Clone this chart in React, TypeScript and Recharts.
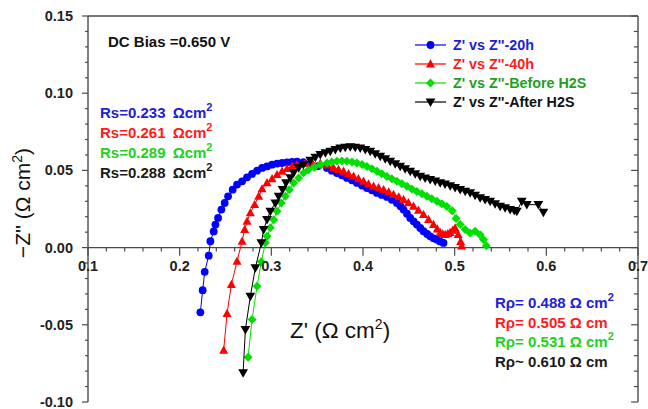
import { ReferenceDot, ReferenceLine, Scatter, ScatterChart, XAxis, YAxis } from "recharts";

// Z' / -Z'' readings, Ω cm²
const z20h: [number, number][] = [
  [0.2226, -0.0419], [0.2251, -0.0276], [0.2273, -0.0157], [0.2317, -0.0052], [0.2335, 0.0041],
  [0.2371, 0.0105], [0.239, 0.0149], [0.2419, 0.0192], [0.2455, 0.0246], [0.2491, 0.0289],
  [0.2528, 0.0332], [0.2578, 0.0375], [0.2626, 0.0408], [0.2681, 0.0429], [0.2735, 0.0455],
  [0.279, 0.0477], [0.2844, 0.0498], [0.2899, 0.0516], [0.2953, 0.0526], [0.3008, 0.0537],
  [0.3062, 0.0544], [0.3117, 0.0548], [0.3171, 0.0552], [0.3226, 0.0555], [0.328, 0.0557],
  [0.3349, 0.0553], [0.3425, 0.0544], [0.3512, 0.0528], [0.3607, 0.0516], [0.366, 0.0498],
  [0.3716, 0.0483], [0.377, 0.0468], [0.3825, 0.0451], [0.388, 0.0436], [0.3934, 0.0419],
  [0.399, 0.0402], [0.4043, 0.0386], [0.4098, 0.0371], [0.4152, 0.0354], [0.4205, 0.0341],
  [0.4261, 0.0328], [0.4315, 0.031], [0.437, 0.0289], [0.441, 0.0268], [0.4442, 0.0246],
  [0.448, 0.022], [0.4515, 0.0192], [0.4552, 0.017], [0.4588, 0.0149], [0.4625, 0.0127],
  [0.466, 0.0106], [0.47, 0.0088], [0.4733, 0.0073], [0.477, 0.006], [0.4806, 0.0052],
  [0.484, 0.004], [0.4878, 0.003],
];

const z40h: [number, number][] = [
  [0.248, -0.0665], [0.2517, -0.0427], [0.2564, -0.0239], [0.2626, -0.0089], [0.2681, 0.0041],
  [0.2709, 0.0117], [0.2735, 0.017], [0.2771, 0.0225], [0.2818, 0.0278], [0.2862, 0.0332],
  [0.2899, 0.038], [0.2953, 0.0419], [0.3008, 0.0445], [0.3062, 0.0472], [0.3117, 0.0494],
  [0.3171, 0.0511], [0.3226, 0.0526], [0.328, 0.0537], [0.3371, 0.0544], [0.3447, 0.0548],
  [0.3534, 0.0546], [0.3607, 0.0535], [0.3679, 0.0516], [0.3733, 0.0505], [0.3788, 0.0494],
  [0.3842, 0.0478], [0.3897, 0.0461], [0.395, 0.0446], [0.4006, 0.0429], [0.406, 0.0412],
  [0.4115, 0.0397], [0.417, 0.0387], [0.4224, 0.0375], [0.428, 0.036], [0.4333, 0.0343],
  [0.439, 0.0328], [0.4442, 0.0311], [0.4495, 0.029], [0.4551, 0.0267], [0.4605, 0.0242],
  [0.466, 0.0214], [0.4715, 0.0182], [0.4769, 0.0149], [0.481, 0.012], [0.4842, 0.0097],
  [0.487, 0.0088], [0.4897, 0.0084], [0.4925, 0.009], [0.4951, 0.0097], [0.498, 0.0112],
  [0.5005, 0.0126], [0.5038, 0.0084], [0.5065, 0.0039], [0.5076, 0.001],
];

const zBefore: [number, number][] = [
  [0.2746, -0.071], [0.279, -0.0466], [0.2844, -0.025], [0.2891, -0.0091], [0.2935, 0.0032],
  [0.2953, 0.0073], [0.2989, 0.0128], [0.3025, 0.0181], [0.3062, 0.0235], [0.3109, 0.0289],
  [0.3153, 0.0332], [0.3196, 0.0375], [0.3243, 0.0419], [0.3298, 0.0451], [0.3352, 0.0484],
  [0.3403, 0.0502], [0.3469, 0.0521], [0.3534, 0.0537], [0.3607, 0.0548], [0.366, 0.0555],
  [0.3716, 0.0559], [0.377, 0.0561], [0.3825, 0.0559], [0.388, 0.0555], [0.3934, 0.0548],
  [0.399, 0.0538], [0.4043, 0.0526], [0.4098, 0.051], [0.4152, 0.0494], [0.4205, 0.0478],
  [0.4261, 0.0461], [0.4315, 0.0446], [0.437, 0.0429], [0.4425, 0.0413], [0.4479, 0.0397],
  [0.4533, 0.038], [0.4588, 0.0364], [0.4642, 0.0348], [0.4697, 0.0332], [0.475, 0.0316],
  [0.4806, 0.03], [0.486, 0.0284], [0.4915, 0.0267], [0.4973, 0.0239], [0.5016, 0.0188],
  [0.506, 0.0149], [0.5114, 0.0117], [0.5169, 0.0095], [0.5223, 0.0106], [0.5278, 0.0084],
  [0.5314, 0.0052], [0.5345, 0.0012],
];

const zAfter: [number, number][] = [
  [0.2692, -0.0811], [0.2717, -0.0531], [0.2771, -0.0315], [0.2826, -0.0131], [0.2891, 0.003],
  [0.2916, 0.0117], [0.2953, 0.0181], [0.2989, 0.0235], [0.3044, 0.0289], [0.308, 0.0332],
  [0.3123, 0.0375], [0.316, 0.0419], [0.3207, 0.0451], [0.3243, 0.0484], [0.3298, 0.0516],
  [0.3349, 0.0537], [0.3425, 0.0565], [0.348, 0.0585], [0.3534, 0.0602], [0.359, 0.0613],
  [0.3643, 0.0623], [0.3698, 0.0635], [0.3752, 0.0645], [0.3806, 0.065], [0.3861, 0.0652],
  [0.3915, 0.065], [0.397, 0.0645], [0.4025, 0.0635], [0.4079, 0.0623], [0.4133, 0.0607],
  [0.4188, 0.0591], [0.4243, 0.0575], [0.4297, 0.0559], [0.4352, 0.0543], [0.4406, 0.0526],
  [0.446, 0.051], [0.4515, 0.0494], [0.457, 0.0477], [0.4624, 0.0461], [0.4678, 0.045],
  [0.4733, 0.044], [0.4788, 0.043], [0.4842, 0.0419], [0.4895, 0.0412], [0.4951, 0.04],
  [0.5005, 0.0388], [0.506, 0.0375], [0.5115, 0.0365], [0.5169, 0.0354], [0.5223, 0.0338],
  [0.5278, 0.0322], [0.5332, 0.0311], [0.5387, 0.03], [0.5441, 0.0284], [0.5496, 0.0267],
  [0.555, 0.0257], [0.5605, 0.0246], [0.565, 0.024], [0.5678, 0.0235], [0.5732, 0.03],
  [0.5787, 0.0278], [0.5913, 0.0278], [0.5968, 0.0228],
];

const xMajorTicks = [0.1, 0.2, 0.3, 0.4, 0.5, 0.6, 0.7];
const xMinorTicks = Array.from({ length: 31 }, (_, i) => Math.round((0.1 + i * 0.02) * 100) / 100);
const yTicks = Array.from({ length: 26 }, (_, i) => Math.round((-0.1 + i * 0.01) * 100) / 100);

const rsLabels = ["Rs=0.233 ", "Rs=0.261 ", "Rs=0.289 ", "Rs=0.288 "];
const rpLabels = ["Rρ= 0.488 ", "Rρ= 0.505 ", "Rρ= 0.531 ", "Rρ~ 0.610 "];
const rpSquared = [true, false, true, false];
const seriesNames = ["Z' vs Z''-20h", "Z' vs Z''-40h", "Z' vs Z''-Before H2S", "Z' vs Z''-After H2S"];

const FONT = "Arial, 'Liberation Sans', Helvetica, sans-serif";
const AXIS = "#4a4a4a";
const BLUE = "#0000ff";
const RED = "#ff0000";
const GREEN = "#00e000";
const BLACK = "#000000";
const textColors = ["#2020d8", "#ff1a1a", "#1ed21e", "#1a1a1a"];
const legendText = ["#2020d8", "#ff1a1a", "#1f9f1f", "#111111"];

const toPts = (a: [number, number][]) => a.map(([x, y]) => ({ x, y }));

function marker(kind: string, cx: number, cy: number, color: string) {
  if (kind === "circle") return <circle cx={cx} cy={cy} r={3.9} fill={color} />;
  if (kind === "tri")
    return <polygon points={`${cx},${cy - 4.8} ${cx + 4.5},${cy + 3.4} ${cx - 4.5},${cy + 3.4}`} fill={color} />;
  if (kind === "diamond")
    return <polygon points={`${cx},${cy - 4.5} ${cx + 4.5},${cy} ${cx},${cy + 4.5} ${cx - 4.5},${cy}`} fill={color} />;
  return <polygon points={`${cx - 4.9},${cy - 3.6} ${cx + 4.9},${cy - 3.6} ${cx},${cy + 4.9}`} fill={color} />;
}

const shapeOf = (kind: string, color: string) => (p: any) => marker(kind, p.cx, p.cy, color);

function YTick(props: any) {
  const { x, y, payload } = props;
  const v = payload.value as number;
  const major = Math.round(v * 100) % 5 === 0;
  return (
    <g>
      <line x1={x - (major ? 6 : 3)} x2={x} y1={y} y2={y} stroke={AXIS} strokeWidth={1.2} />
      {major && (
        <text x={x - 15} y={y} dy={5} textAnchor="end" fontFamily={FONT} fontWeight="bold" fontSize={14.5} fill="#222">
          {v.toFixed(2)}
        </text>
      )}
    </g>
  );
}

const series = [
  { data: z20h, color: BLUE, kind: "circle" },
  { data: z40h, color: RED, kind: "tri" },
  { data: zBefore, color: GREEN, kind: "diamond" },
  { data: zAfter, color: BLACK, kind: "down" },
];

export default function App() {
  const legendRows = [45, 64, 83, 102];
  const rsRows = [113, 133, 153, 173];
  const rpRows = [303, 323, 342, 362];
  return (
    <div style={{ position: "fixed", left: 0, top: 0, width: 648, height: 409, background: "#fff" }}>
      <ScatterChart width={648} height={409} margin={{ top: 16, right: 10, bottom: 7, left: 0 }}>
        <XAxis type="number" dataKey="x" domain={[0.1, 0.7]} hide allowDataOverflow />
        <YAxis
          type="number"
          dataKey="y"
          domain={[-0.1, 0.15]}
          ticks={yTicks}
          interval={0}
          width={88}
          tickSize={0}
          tickMargin={0}
          tickLine={false}
          tick={(p: any) => <YTick {...p} />}
          axisLine={{ stroke: AXIS, strokeWidth: 1.4 }}
          allowDataOverflow
        />
        <ReferenceLine y={0.15} stroke={AXIS} strokeWidth={1.4} />
        <ReferenceLine x={0.7} stroke={AXIS} strokeWidth={1.4} />
        <ReferenceLine y={0} stroke={AXIS} strokeWidth={1.4} />
        {xMinorTicks.map((v) => {
          const major = xMajorTicks.some((m) => Math.abs(m - v) < 1e-6);
          return (
            <ReferenceLine
              key={`xt${v}`}
              segment={[{ x: v, y: 0 }, { x: v, y: major ? -0.0052 : -0.0026 }]}
              stroke={AXIS}
              strokeWidth={1.2}
            />
          );
        })}
        {yTicks.map((v) => {
          const major = Math.round(v * 100) % 5 === 0;
          return (
            <ReferenceLine
              key={`rt${v}`}
              segment={[{ x: 0.7, y: v }, { x: major ? 0.6925 : 0.6955, y: v }]}
              stroke={AXIS}
              strokeWidth={1.2}
            />
          );
        })}
        {xMajorTicks.map((v) => (
          <ReferenceDot
            key={`xl${v}`}
            x={v}
            y={0}
            r={0.5}
            fill="none"
            stroke="none"
            label={{
              value: v.toFixed(1),
              position: "bottom",
              offset: 13,
              fill: "#222",
              fontSize: 14.5,
              fontWeight: "bold",
              fontFamily: FONT,
            }}
          />
        ))}
        {series.map((s, i) => (
          <Scatter
            key={seriesNames[i]}
            name={seriesNames[i]}
            data={toPts(s.data)}
            fill={s.color}
            line={{ stroke: s.color, strokeWidth: 1 }}
            shape={shapeOf(s.kind, s.color)}
            isAnimationActive={false}
          />
        ))}
      </ScatterChart>
      <svg width={648} height={409} style={{ position: "absolute", left: 0, top: 0, pointerEvents: "none" }}>
        <text x={108} y={47} fontFamily={FONT} fontWeight="bold" fontSize={15} fill="#111">
          DC Bias =0.650 V
        </text>
        {series.map((s, i) => (
          <g key={`lg${i}`}>
            <line x1={415} x2={446} y1={legendRows[i]} y2={legendRows[i]} stroke={s.color} strokeWidth={1.2} />
            {marker(s.kind, 430.5, legendRows[i], s.color)}
            <text x={453} y={legendRows[i] + 5} fontFamily={FONT} fontWeight="bold" fontSize={14.3} fill={legendText[i]}>
              {seriesNames[i]}
            </text>
          </g>
        ))}
        {rsLabels.map((t, i) => (
          <text key={`rs${i}`} x={100} y={rsRows[i] + 5} fontFamily={FONT} fontWeight="bold" fontSize={15} fill={textColors[i]}>
            {t}
            <tspan dx={3}>Ωcm</tspan>
            <tspan dy={-7} fontSize={11}>2</tspan>
          </text>
        ))}
        {rpLabels.map((t, i) => (
          <text key={`rp${i}`} x={495} y={rpRows[i] + 5} fontFamily={FONT} fontWeight="bold" fontSize={15} fill={textColors[i]}>
            {t}
            <tspan>Ω cm</tspan>
            {rpSquared[i] && (
              <tspan dy={-7} fontSize={11}>
                2
              </tspan>
            )}
          </text>
        ))}
        <text x={290} y={338} fontFamily={FONT} fontSize={22.5} fill="#111">
          Z' (Ω cm<tspan dy={-9} fontSize={14}>2</tspan>
          <tspan dy={9}>)</tspan>
        </text>
        <text transform="translate(30,203) rotate(-90)" textAnchor="middle" fontFamily={FONT} fontSize={21} fill="#111">
          −Z'' (Ω cm<tspan dy={-8} fontSize={14}>2</tspan>
          <tspan dy={8}>)</tspan>
        </text>
      </svg>
    </div>
  );
}
